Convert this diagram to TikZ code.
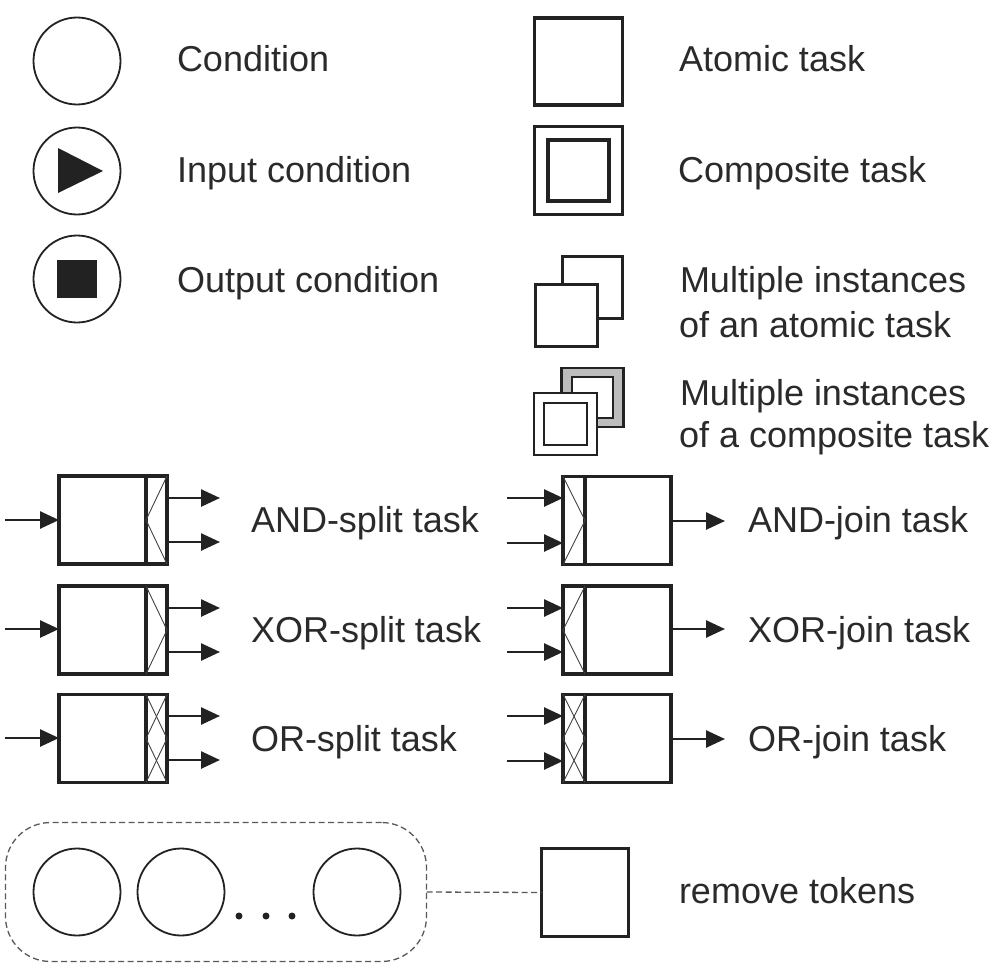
\documentclass[tikz,border=0pt]{standalone}
\usepackage{fontspec}
\setmainfont{Liberation Sans}
\usetikzlibrary{arrows.meta}
\definecolor{ink}{HTML}{222222}
\definecolor{txt}{HTML}{2A2A2A}
\begin{document}
\begin{tikzpicture}[x=1pt,y=-1pt,
  cond/.style={circle, draw=ink, line width=1.8pt, minimum size=87pt, inner sep=0pt, outer sep=0pt, fill=white},
  sq/.style={draw=ink, line width=3.6pt, inner sep=0pt, outer sep=0pt, fill=white},
  task/.style={draw=ink, line width=3.4pt, minimum width=108pt, minimum height=88pt, inner sep=0pt, outer sep=0pt},
  arr/.style={draw=ink, line width=2.6pt, -{Triangle[length=19pt,width=17pt]}},
  deco/.style={draw=ink!85, line width=0.9pt},
  sepline/.style={draw=ink, line width=3.2pt},
  dashy/.style={draw=ink!75, line width=1.3pt, dash pattern=on 6pt off 3.5pt},
  lbl/.style={anchor=base west, inner sep=0pt, outer sep=0pt, text=txt, font=\fontsize{36}{43}\selectfont},
  dotm/.style={circle, fill=ink, inner sep=0pt, minimum size=7pt}
]
\useasboundingbox (0,0) rectangle (1000,971);
\fill[white] (0,0) rectangle (1000,971);

% ---------- conditions ----------
\node[cond] (c1) at (77,61) {};
\node[lbl] (l1) at (177,72) {Condition};
\node[cond] (c2) at (77,171) {};
\fill[ink] ([shift={(-19,-23)}]c2.center) -- ([shift={(-19,22)}]c2.center) -- ([shift={(26,0)}]c2.center) -- cycle;
\node[lbl] (l2) at (177,182) {Input condition};
\node[cond] (c3) at (77,279) {};
\node[fill=ink, minimum width=40pt, minimum height=38pt, inner sep=0pt] (c3s) at (c3.center) {};
\node[lbl] (l3) at (177,292) {Output condition};

% ---------- tasks ----------
\node[sq, minimum width=88pt, minimum height=87pt] (at) at (578.5,61.5) {};
\node[lbl] (l4) at (679,72) {Atomic task};
\node[sq, minimum width=88pt, minimum height=88pt] (ct) at (578.5,170.5) {};
\node[sq, minimum width=61pt, minimum height=61pt] (cti) at (ct.center) {};
\node[lbl] (l5) at (678,182) {Composite task};

% multiple instances atomic
\node[sq, line width=3pt, minimum width=60pt, minimum height=62pt] (ma2) at (592.5,287.5) {};
\node[sq, line width=3pt, minimum width=62pt, minimum height=62pt] (ma1) at (566,315) {};
\node[lbl] (l6) at (680,292) {Multiple instances};
\node[lbl] (l7) at (679,337) {of an atomic task};

% multiple instances composite
\node[sq, line width=2.8pt, minimum width=62pt, minimum height=59pt, fill=ink!30] (mc2) at (592.5,397.5) {};
\node[sq, line width=2.8pt, minimum width=41pt, minimum height=41pt] (mc2i) at (mc2.center) {};
\node[sq, line width=2.8pt, minimum width=63pt, minimum height=62pt] (mc1) at (565.5,424) {};
\node[sq, line width=2.8pt, minimum width=43pt, minimum height=42pt] (mc1i) at (mc1.center) {};
\node[lbl] (l8) at (680,405) {Multiple instances};
\node[lbl] (l9) at (679,447) {of a composite task};

% ---------- split tasks ----------
% AND-split
\node[task] (s1) at (113,520) {};
\draw[sepline] ([xshift=-21pt]s1.north east) -- ([xshift=-21pt]s1.south east);
\draw[deco] (s1.north east) -- ([xshift=-21pt]s1.east) -- (s1.south east);
\coordinate (s1i) at (5,520);
\coordinate (s1a) at (220,498);
\coordinate (s1b) at (220,542);
\draw[arr] (s1i) -- (s1.west);
\draw[arr] (s1.east |- s1a) -- (s1a);
\draw[arr] (s1.east |- s1b) -- (s1b);
\node[lbl] (l10) at (251,532.5) {AND-split task};

% XOR-split
\node[task] (s2) at (113,630) {};
\draw[sepline] ([xshift=-21pt]s2.north east) -- ([xshift=-21pt]s2.south east);
\draw[deco] ([xshift=-21pt]s2.north east) -- (s2.east) -- ([xshift=-21pt]s2.south east);
\coordinate (s2i) at (5,629);
\coordinate (s2a) at (220,608);
\coordinate (s2b) at (220,652);
\draw[arr] (s2i) -- (s2.west |- s2i);
\draw[arr] (s2.east |- s2a) -- (s2a);
\draw[arr] (s2.east |- s2b) -- (s2b);
\node[lbl] (l11) at (251,642) {XOR-split task};

% OR-split
\node[task] (s3) at (113,738.5) {};
\draw[sepline] ([xshift=-21pt]s3.north east) -- ([xshift=-21pt]s3.south east);
\draw[deco] (s3.north east) -- ([xshift=-21pt]s3.east) -- (s3.south east);
\draw[deco] ([xshift=-21pt]s3.north east) -- (s3.east) -- ([xshift=-21pt]s3.south east);
\coordinate (s3i) at (5,738);
\coordinate (s3a) at (220,716);
\coordinate (s3b) at (220,760);
\draw[arr] (s3i) -- (s3.west |- s3i);
\draw[arr] (s3.east |- s3a) -- (s3a);
\draw[arr] (s3.east |- s3b) -- (s3b);
\node[lbl] (l12) at (251,751) {OR-split task};

% ---------- join tasks ----------
% AND-join
\node[task] (j1) at (617,520.5) {};
\draw[sepline] ([xshift=22pt]j1.north west) -- ([xshift=22pt]j1.south west);
\draw[deco] (j1.north west) -- ([xshift=22pt]j1.west) -- (j1.south west);
\coordinate (j1a) at (507,498);
\coordinate (j1b) at (507,543);
\coordinate (j1o) at (725,521);
\draw[arr] (j1a) -- (j1.west |- j1a);
\draw[arr] (j1b) -- (j1.west |- j1b);
\draw[arr] (j1.east |- j1o) -- (j1o);
\node[lbl] (l13) at (748,532.5) {AND-join task};

% XOR-join
\node[task] (j2) at (617,630) {};
\draw[sepline] ([xshift=22pt]j2.north west) -- ([xshift=22pt]j2.south west);
\draw[deco] ([xshift=22pt]j2.north west) -- (j2.west) -- ([xshift=22pt]j2.south west);
\coordinate (j2a) at (507,608);
\coordinate (j2b) at (507,652);
\coordinate (j2o) at (725,629);
\draw[arr] (j2a) -- (j2.west |- j2a);
\draw[arr] (j2b) -- (j2.west |- j2b);
\draw[arr] (j2.east |- j2o) -- (j2o);
\node[lbl] (l14) at (748,642) {XOR-join task};

% OR-join
\node[task] (j3) at (617,738.5) {};
\draw[sepline] ([xshift=22pt]j3.north west) -- ([xshift=22pt]j3.south west);
\draw[deco] (j3.north west) -- ([xshift=22pt]j3.west) -- (j3.south west);
\draw[deco] ([xshift=22pt]j3.north west) -- (j3.west) -- ([xshift=22pt]j3.south west);
\coordinate (j3a) at (507,716);
\coordinate (j3b) at (507,761);
\coordinate (j3o) at (725,739);
\draw[arr] (j3a) -- (j3.west |- j3a);
\draw[arr] (j3b) -- (j3.west |- j3b);
\draw[arr] (j3.east |- j3o) -- (j3o);
\node[lbl] (l15) at (748,751) {OR-join task};

% ---------- remove tokens ----------
\node[dashy, rounded corners=45pt, minimum width=421pt, minimum height=139pt, inner sep=0pt, outer sep=0pt] (grp) at (216,892) {};
\node[cond] (b1) at (77,892) {};
\node[cond] (b2) at (181,892) {};
\node[cond] (b3) at (357,892) {};
\node[dotm] (d1) at (239,916) {};
\node[dotm] (d2) at (266,916) {};
\node[dotm] (d3) at (292,916) {};
\node[sq, minimum width=87pt, minimum height=88pt] (rt) at (585,892.5) {};
\draw[dashy] (grp.east) -- (rt.west);
\node[lbl] (l16) at (679,903) {remove tokens};
\end{tikzpicture}
\end{document}
